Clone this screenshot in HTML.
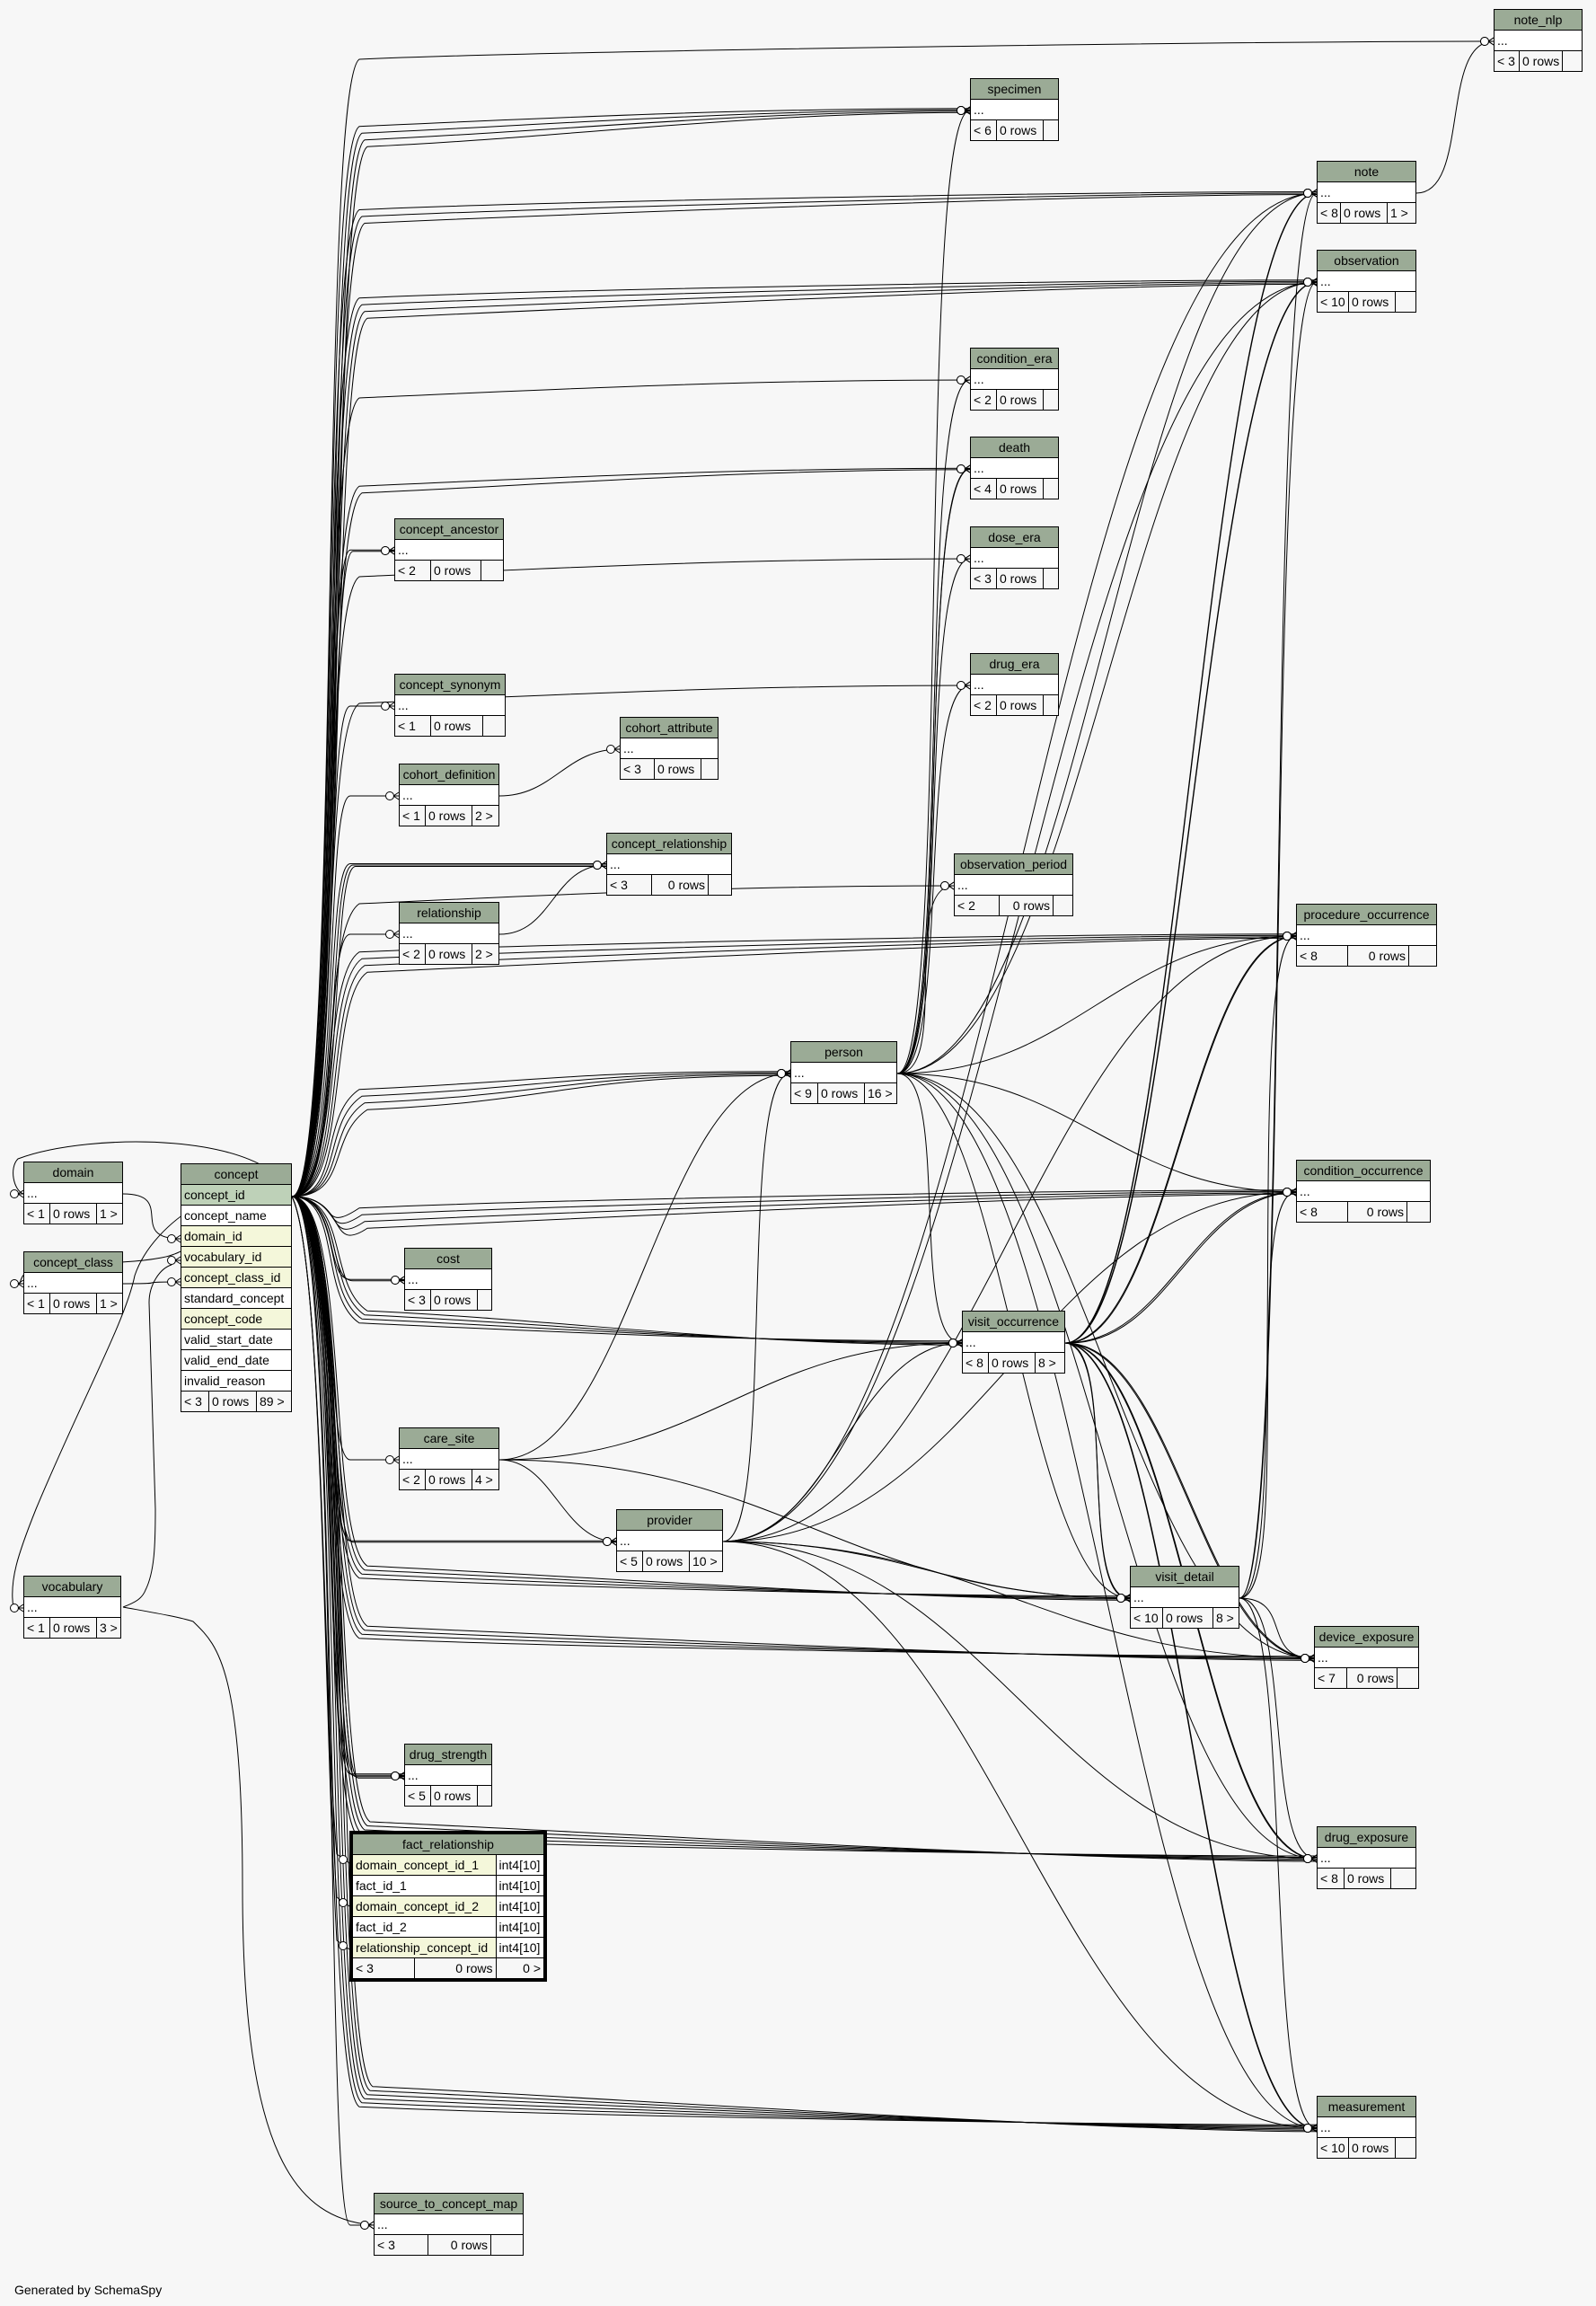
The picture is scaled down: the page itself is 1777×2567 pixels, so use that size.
<!DOCTYPE html>
<html><head><meta charset="utf-8">
<style>
html,body{margin:0;padding:0;}
body{width:1777px;height:2567px;background:#f7f7f7;position:relative;overflow:hidden;font-family:"Liberation Sans",sans-serif;}
table.t{position:absolute;border-collapse:collapse;font-size:14px;table-layout:fixed;z-index:2;}
table.t td{border:1px solid #000;height:22px;padding:0 3px;white-space:nowrap;overflow:hidden;line-height:22px;}
table.t td.h{background:#9bab96;text-align:center;}
table.t td.b{background:#fff;}
table.t td.f{background:#f7f7f7;}
table.t td.pk{background:#bed1b8;}
table.t td.fk{background:#f4f7da;}
table.t td.r{text-align:right;}
svg{position:absolute;left:0;top:0;z-index:1;}
.gen{position:absolute;left:16px;top:2541px;font-size:14px;}
</style></head><body>
<svg id="s" width="1777" height="2567" viewBox="0 0 1777 2567"></svg>

<table class="t" style="left:1663px;top:10px;width:99px"><colgroup><col style="width:28px"><col style="width:48px"><col></colgroup><tr><td class="h" colspan="3">note_nlp</td></tr><tr><td class="b" colspan="3">...</td></tr><tr><td class="f">&lt; 3</td><td class="f">0 rows</td><td class="f"></td></tr></table>

<table class="t" style="left:1080px;top:87px;width:99px"><colgroup><col style="width:29px"><col style="width:52px"><col></colgroup><tr><td class="h" colspan="3">specimen</td></tr><tr><td class="b" colspan="3">...</td></tr><tr><td class="f">&lt; 6</td><td class="f">0 rows</td><td class="f"></td></tr></table>

<table class="t" style="left:1466px;top:179px;width:111px"><colgroup><col style="width:26px"><col style="width:52px"><col></colgroup><tr><td class="h" colspan="3">note</td></tr><tr><td class="b" colspan="3">...</td></tr><tr><td class="f">&lt; 8</td><td class="f">0 rows</td><td class="f">1 &gt;</td></tr></table>

<table class="t" style="left:1466px;top:278px;width:111px"><colgroup><col style="width:35px"><col style="width:52px"><col></colgroup><tr><td class="h" colspan="3">observation</td></tr><tr><td class="b" colspan="3">...</td></tr><tr><td class="f">&lt; 10</td><td class="f">0 rows</td><td class="f"></td></tr></table>

<table class="t" style="left:1080px;top:387px;width:99px"><colgroup><col style="width:29px"><col style="width:52px"><col></colgroup><tr><td class="h" colspan="3">condition_era</td></tr><tr><td class="b" colspan="3">...</td></tr><tr><td class="f">&lt; 2</td><td class="f">0 rows</td><td class="f"></td></tr></table>

<table class="t" style="left:1080px;top:486px;width:99px"><colgroup><col style="width:29px"><col style="width:52px"><col></colgroup><tr><td class="h" colspan="3">death</td></tr><tr><td class="b" colspan="3">...</td></tr><tr><td class="f">&lt; 4</td><td class="f">0 rows</td><td class="f"></td></tr></table>

<table class="t" style="left:1080px;top:586px;width:99px"><colgroup><col style="width:29px"><col style="width:52px"><col></colgroup><tr><td class="h" colspan="3">dose_era</td></tr><tr><td class="b" colspan="3">...</td></tr><tr><td class="f">&lt; 3</td><td class="f">0 rows</td><td class="f"></td></tr></table>

<table class="t" style="left:1080px;top:727px;width:99px"><colgroup><col style="width:29px"><col style="width:52px"><col></colgroup><tr><td class="h" colspan="3">drug_era</td></tr><tr><td class="b" colspan="3">...</td></tr><tr><td class="f">&lt; 2</td><td class="f">0 rows</td><td class="f"></td></tr></table>

<table class="t" style="left:439px;top:577px;width:122px"><colgroup><col style="width:40px"><col style="width:56px"><col></colgroup><tr><td class="h" colspan="3">concept_ancestor</td></tr><tr><td class="b" colspan="3">...</td></tr><tr><td class="f">&lt; 2</td><td class="f">0 rows</td><td class="f"></td></tr></table>

<table class="t" style="left:439px;top:750px;width:124px"><colgroup><col style="width:40px"><col style="width:58px"><col></colgroup><tr><td class="h" colspan="3">concept_synonym</td></tr><tr><td class="b" colspan="3">...</td></tr><tr><td class="f">&lt; 1</td><td class="f">0 rows</td><td class="f"></td></tr></table>

<table class="t" style="left:690px;top:798px;width:110px"><colgroup><col style="width:38px"><col style="width:52px"><col></colgroup><tr><td class="h" colspan="3">cohort_attribute</td></tr><tr><td class="b" colspan="3">...</td></tr><tr><td class="f">&lt; 3</td><td class="f">0 rows</td><td class="f"></td></tr></table>

<table class="t" style="left:444px;top:850px;width:112px"><colgroup><col style="width:29px"><col style="width:52px"><col></colgroup><tr><td class="h" colspan="3">cohort_definition</td></tr><tr><td class="b" colspan="3">...</td></tr><tr><td class="f">&lt; 1</td><td class="f">0 rows</td><td class="f">2 &gt;</td></tr></table>

<table class="t" style="left:675px;top:927px;width:140px"><colgroup><col style="width:50px"><col style="width:63px"><col></colgroup><tr><td class="h" colspan="3">concept_relationship</td></tr><tr><td class="b" colspan="3">...</td></tr><tr><td class="f">&lt; 3</td><td class="f r">0 rows</td><td class="f"></td></tr></table>

<table class="t" style="left:1062px;top:950px;width:133px"><colgroup><col style="width:50px"><col style="width:60px"><col></colgroup><tr><td class="h" colspan="3">observation_period</td></tr><tr><td class="b" colspan="3">...</td></tr><tr><td class="f">&lt; 2</td><td class="f r">0 rows</td><td class="f"></td></tr></table>

<table class="t" style="left:444px;top:1004px;width:112px"><colgroup><col style="width:29px"><col style="width:52px"><col></colgroup><tr><td class="h" colspan="3">relationship</td></tr><tr><td class="b" colspan="3">...</td></tr><tr><td class="f">&lt; 2</td><td class="f">0 rows</td><td class="f">2 &gt;</td></tr></table>

<table class="t" style="left:1443px;top:1006px;width:157px"><colgroup><col style="width:57px"><col style="width:68px"><col></colgroup><tr><td class="h" colspan="3">procedure_occurrence</td></tr><tr><td class="b" colspan="3">...</td></tr><tr><td class="f">&lt; 8</td><td class="f r">0 rows</td><td class="f"></td></tr></table>

<table class="t" style="left:880px;top:1159px;width:119px"><colgroup><col style="width:30px"><col style="width:52px"><col></colgroup><tr><td class="h" colspan="3">person</td></tr><tr><td class="b" colspan="3">...</td></tr><tr><td class="f">&lt; 9</td><td class="f">0 rows</td><td class="f">16 &gt;</td></tr></table>

<table class="t" style="left:26px;top:1293px;width:111px"><colgroup><col style="width:29px"><col style="width:52px"><col></colgroup><tr><td class="h" colspan="3">domain</td></tr><tr><td class="b" colspan="3">...</td></tr><tr><td class="f">&lt; 1</td><td class="f">0 rows</td><td class="f">1 &gt;</td></tr></table>

<table class="t" style="left:26px;top:1393px;width:111px"><colgroup><col style="width:29px"><col style="width:52px"><col></colgroup><tr><td class="h" colspan="3">concept_class</td></tr><tr><td class="b" colspan="3">...</td></tr><tr><td class="f">&lt; 1</td><td class="f">0 rows</td><td class="f">1 &gt;</td></tr></table>

<table class="t" style="left:201px;top:1295px;width:124px"><colgroup><col style="width:31px"><col style="width:53px"><col></colgroup>
<tr><td class="h" colspan="3">concept</td></tr>
<tr><td class="pk" colspan="3">concept_id</td></tr>
<tr><td class="b" colspan="3">concept_name</td></tr>
<tr><td class="fk" colspan="3">domain_id</td></tr>
<tr><td class="fk" colspan="3">vocabulary_id</td></tr>
<tr><td class="fk" colspan="3">concept_class_id</td></tr>
<tr><td class="b" colspan="3">standard_concept</td></tr>
<tr><td class="fk" colspan="3">concept_code</td></tr>
<tr><td class="b" colspan="3">valid_start_date</td></tr>
<tr><td class="b" colspan="3">valid_end_date</td></tr>
<tr><td class="b" colspan="3">invalid_reason</td></tr>
<tr><td class="f">&lt; 3</td><td class="f">0 rows</td><td class="f">89 &gt;</td></tr></table>

<table class="t" style="left:1443px;top:1291px;width:150px"><colgroup><col style="width:57px"><col style="width:66px"><col></colgroup><tr><td class="h" colspan="3">condition_occurrence</td></tr><tr><td class="b" colspan="3">...</td></tr><tr><td class="f">&lt; 8</td><td class="f r">0 rows</td><td class="f"></td></tr></table>

<table class="t" style="left:450px;top:1389px;width:98px"><colgroup><col style="width:29px"><col style="width:52px"><col></colgroup><tr><td class="h" colspan="3">cost</td></tr><tr><td class="b" colspan="3">...</td></tr><tr><td class="f">&lt; 3</td><td class="f">0 rows</td><td class="f"></td></tr></table>

<table class="t" style="left:1071px;top:1459px;width:115px"><colgroup><col style="width:29px"><col style="width:52px"><col></colgroup><tr><td class="h" colspan="3">visit_occurrence</td></tr><tr><td class="b" colspan="3">...</td></tr><tr><td class="f">&lt; 8</td><td class="f">0 rows</td><td class="f">8 &gt;</td></tr></table>

<table class="t" style="left:444px;top:1589px;width:112px"><colgroup><col style="width:29px"><col style="width:52px"><col></colgroup><tr><td class="h" colspan="3">care_site</td></tr><tr><td class="b" colspan="3">...</td></tr><tr><td class="f">&lt; 2</td><td class="f">0 rows</td><td class="f">4 &gt;</td></tr></table>

<table class="t" style="left:686px;top:1680px;width:119px"><colgroup><col style="width:29px"><col style="width:52px"><col></colgroup><tr><td class="h" colspan="3">provider</td></tr><tr><td class="b" colspan="3">...</td></tr><tr><td class="f">&lt; 5</td><td class="f">0 rows</td><td class="f">10 &gt;</td></tr></table>

<table class="t" style="left:1258px;top:1743px;width:122px"><colgroup><col style="width:36px"><col style="width:56px"><col></colgroup><tr><td class="h" colspan="3">visit_detail</td></tr><tr><td class="b" colspan="3">...</td></tr><tr><td class="f">&lt; 10</td><td class="f">0 rows</td><td class="f">8 &gt;</td></tr></table>

<table class="t" style="left:26px;top:1754px;width:109px"><colgroup><col style="width:29px"><col style="width:52px"><col></colgroup><tr><td class="h" colspan="3">vocabulary</td></tr><tr><td class="b" colspan="3">...</td></tr><tr><td class="f">&lt; 1</td><td class="f">0 rows</td><td class="f">3 &gt;</td></tr></table>

<table class="t" style="left:1463px;top:1810px;width:117px"><colgroup><col style="width:36px"><col style="width:56px"><col></colgroup><tr><td class="h" colspan="3">device_exposure</td></tr><tr><td class="b" colspan="3">...</td></tr><tr><td class="f">&lt; 7</td><td class="f r">0 rows</td><td class="f"></td></tr></table>

<table class="t" style="left:450px;top:1941px;width:98px"><colgroup><col style="width:29px"><col style="width:52px"><col></colgroup><tr><td class="h" colspan="3">drug_strength</td></tr><tr><td class="b" colspan="3">...</td></tr><tr><td class="f">&lt; 5</td><td class="f">0 rows</td><td class="f"></td></tr></table>

<table class="t" style="left:389px;top:2038px;width:220px;border:4px solid #000"><colgroup><col style="width:70px"><col style="width:91px"><col></colgroup>
<tr><td class="h" colspan="3">fact_relationship</td></tr>
<tr><td class="fk" colspan="2">domain_concept_id_1</td><td class="b">int4[10]</td></tr>
<tr><td class="b" colspan="2">fact_id_1</td><td class="b">int4[10]</td></tr>
<tr><td class="fk" colspan="2">domain_concept_id_2</td><td class="b">int4[10]</td></tr>
<tr><td class="b" colspan="2">fact_id_2</td><td class="b">int4[10]</td></tr>
<tr><td class="fk" colspan="2">relationship_concept_id</td><td class="b">int4[10]</td></tr>
<tr><td class="f">&lt; 3</td><td class="f r">0 rows</td><td class="f r">0 &gt;</td></tr></table>

<table class="t" style="left:1466px;top:2033px;width:111px"><colgroup><col style="width:30px"><col style="width:52px"><col></colgroup><tr><td class="h" colspan="3">drug_exposure</td></tr><tr><td class="b" colspan="3">...</td></tr><tr><td class="f">&lt; 8</td><td class="f">0 rows</td><td class="f"></td></tr></table>

<table class="t" style="left:1466px;top:2333px;width:111px"><colgroup><col style="width:35px"><col style="width:52px"><col></colgroup><tr><td class="h" colspan="3">measurement</td></tr><tr><td class="b" colspan="3">...</td></tr><tr><td class="f">&lt; 10</td><td class="f">0 rows</td><td class="f"></td></tr></table>

<table class="t" style="left:416px;top:2441px;width:167px"><colgroup><col style="width:60px"><col style="width:70px"><col></colgroup><tr><td class="h" colspan="3">source_to_concept_map</td></tr><tr><td class="b" colspan="3">...</td></tr><tr><td class="f">&lt; 3</td><td class="f r">0 rows</td><td class="f"></td></tr></table>

<div class="gen">Generated by SchemaSpy</div>

<script>
var s=document.getElementById('s'),ns='http://www.w3.org/2000/svg';
function p(d){var e=document.createElementNS(ns,'path');e.setAttribute('d',d);e.setAttribute('fill','none');e.setAttribute('stroke','#000');e.setAttribute('stroke-width','1');s.appendChild(e);}
function mk(x,y){var c=document.createElementNS(ns,'circle');c.setAttribute('cx',x-10);c.setAttribute('cy',y);c.setAttribute('r',4.5);c.setAttribute('fill','#fff');c.setAttribute('stroke','#000');s.appendChild(c);p('M'+(x-6)+' '+y+' L'+x+' '+(y-4)+' M'+(x-6)+' '+y+' L'+x+' '+(y+4)+' M'+(x-6)+' '+y+' L'+x+' '+y);}
var T={specimen:[1080,123],note:[1466,215],observation:[1466,314],condition_era:[1080,423],death:[1080,522],dose_era:[1080,622],concept_ancestor:[439,613],drug_era:[1080,763],concept_synonym:[439,786],cohort_definition:[444,886],concept_relationship:[675,963],relationship:[444,1040],procedure:[1443,1042],person:[880,1195],condition:[1443,1327],cost:[450,1425],visit_occ:[1071,1495],care_site:[444,1625],provider:[686,1716],visit_detail:[1258,1779],device:[1463,1846],drug_strength:[450,1977],drug_exposure:[1466,2069],measurement:[1466,2369],stcm:[416,2477],note_nlp:[1663,46],obs_period:[1062,986],cohort_attribute:[690,834]};
var C={specimen:4,note:3,observation:4,condition_era:1,death:2,dose_era:1,concept_ancestor:2,drug_era:1,concept_synonym:1,cohort_definition:1,concept_relationship:3,relationship:1,procedure:4,person:4,condition:4,cost:2,visit_occ:4,care_site:1,provider:2,visit_detail:4,device:4,drug_strength:4,drug_exposure:5,measurement:6,stcm:1,note_nlp:1,obs_period:1};
for(var k in C){var t=T[k];for(var i=0;i<C[k];i++){var off=(i-(C[k]-1)/2)*3;var tx=t[0],ty=t[1]+off*0.5;var vx=370+i*3;
 if(tx<700){p('M325 1332 C'+(vx+10)+' 1332 '+(vx-10)+' '+ty+' '+(vx+20)+' '+ty+' L'+tx+' '+ty);}
 else{var sg=Math.sign(1332-ty);var yy=ty+sg*(20+i*6);p('M325 1332 C'+(vx+10)+' 1332 '+(vx-15)+' '+(yy+30*sg)+' '+(vx+30)+' '+yy+' C'+(vx+250)+' '+(yy-sg*10)+' '+(tx-250)+' '+ty+' '+tx+' '+ty);}
 mk(tx,t[1]);}}
function e(a,b,n){var x1=a[0],y1=a[1],x2=b[0],y2=b[1];for(var i=0;i<(n||1);i++){var o=i*4;var dx=Math.max(60,Math.abs(x2-x1)*0.45);if(x2<x1+40){p('M'+x1+' '+y1+' C'+(x1+60)+' '+(y1+o)+' '+(x2-60)+' '+(y2+o)+' '+x2+' '+y2);}else p('M'+x1+' '+y1+' C'+(x1+dx)+' '+(y1+o)+' '+(x2-dx)+' '+(y2+o)+' '+x2+' '+y2);}mk(x2,y2);}
var P=[999,1195];
['specimen','condition_era','death','dose_era','drug_era','obs_period','note','observation','procedure','condition','visit_occ','visit_detail','device','drug_exposure','measurement'].forEach(function(k){e(P,T[k],k=='death'?2:1);});
var V=[1186,1495];
['note','observation','procedure','condition','visit_detail','device','drug_exposure','measurement'].forEach(function(k){e(V,T[k],2);});
var PR=[805,1716];
['person','visit_occ','visit_detail','note','observation','procedure','condition','device','drug_exposure','measurement'].forEach(function(k){e(PR,T[k]);});
var CS=[556,1625];
['person','provider','visit_occ','visit_detail'].forEach(function(k){e(CS,T[k]);});
var VD=[1380,1779];
['note','observation','procedure','condition','device','drug_exposure','measurement'].forEach(function(k){e(VD,T[k]);});
e([1577,215],T.note_nlp);
e([556,886],T.cohort_attribute);
e([556,1040],T.concept_relationship);
e([137,1329],[201,1379]);
e([137,1429],[201,1427]);
p('M137 1789 C150 1784 158 1780 162 1770 C172 1750 173 1720 173 1680 L166 1450 C166 1430 178 1412 191 1408');
mk(201,1403);
p('M137 1789 C170 1795 200 1800 215 1805 C240 1830 270 1850 270 2100 C270 2400 330 2470 416 2477');
mk(416,2477);
p('M325 1332 C300 1260 100 1260 20 1290 C10 1300 15 1325 26 1329');mk(26,1329);
p('M325 1332 C280 1300 240 1390 180 1400 C100 1415 30 1390 22 1429 L26 1429');mk(26,1429);
p('M325 1332 C260 1300 170 1360 150 1420 C140 1470 90 1560 40 1680 C20 1730 10 1760 15 1790 L26 1790');mk(26,1790);
[2074,2122,2170].forEach(function(y){p('M325 1332 C360 1400 360 1900 375 '+(y-10)+' L389 '+y);var c=document.createElementNS(ns,'circle');c.setAttribute('cx',382);c.setAttribute('cy',y-4);c.setAttribute('r',4.5);c.setAttribute('fill','#fff');c.setAttribute('stroke','#000');s.appendChild(c);});
</script>
</body></html>
